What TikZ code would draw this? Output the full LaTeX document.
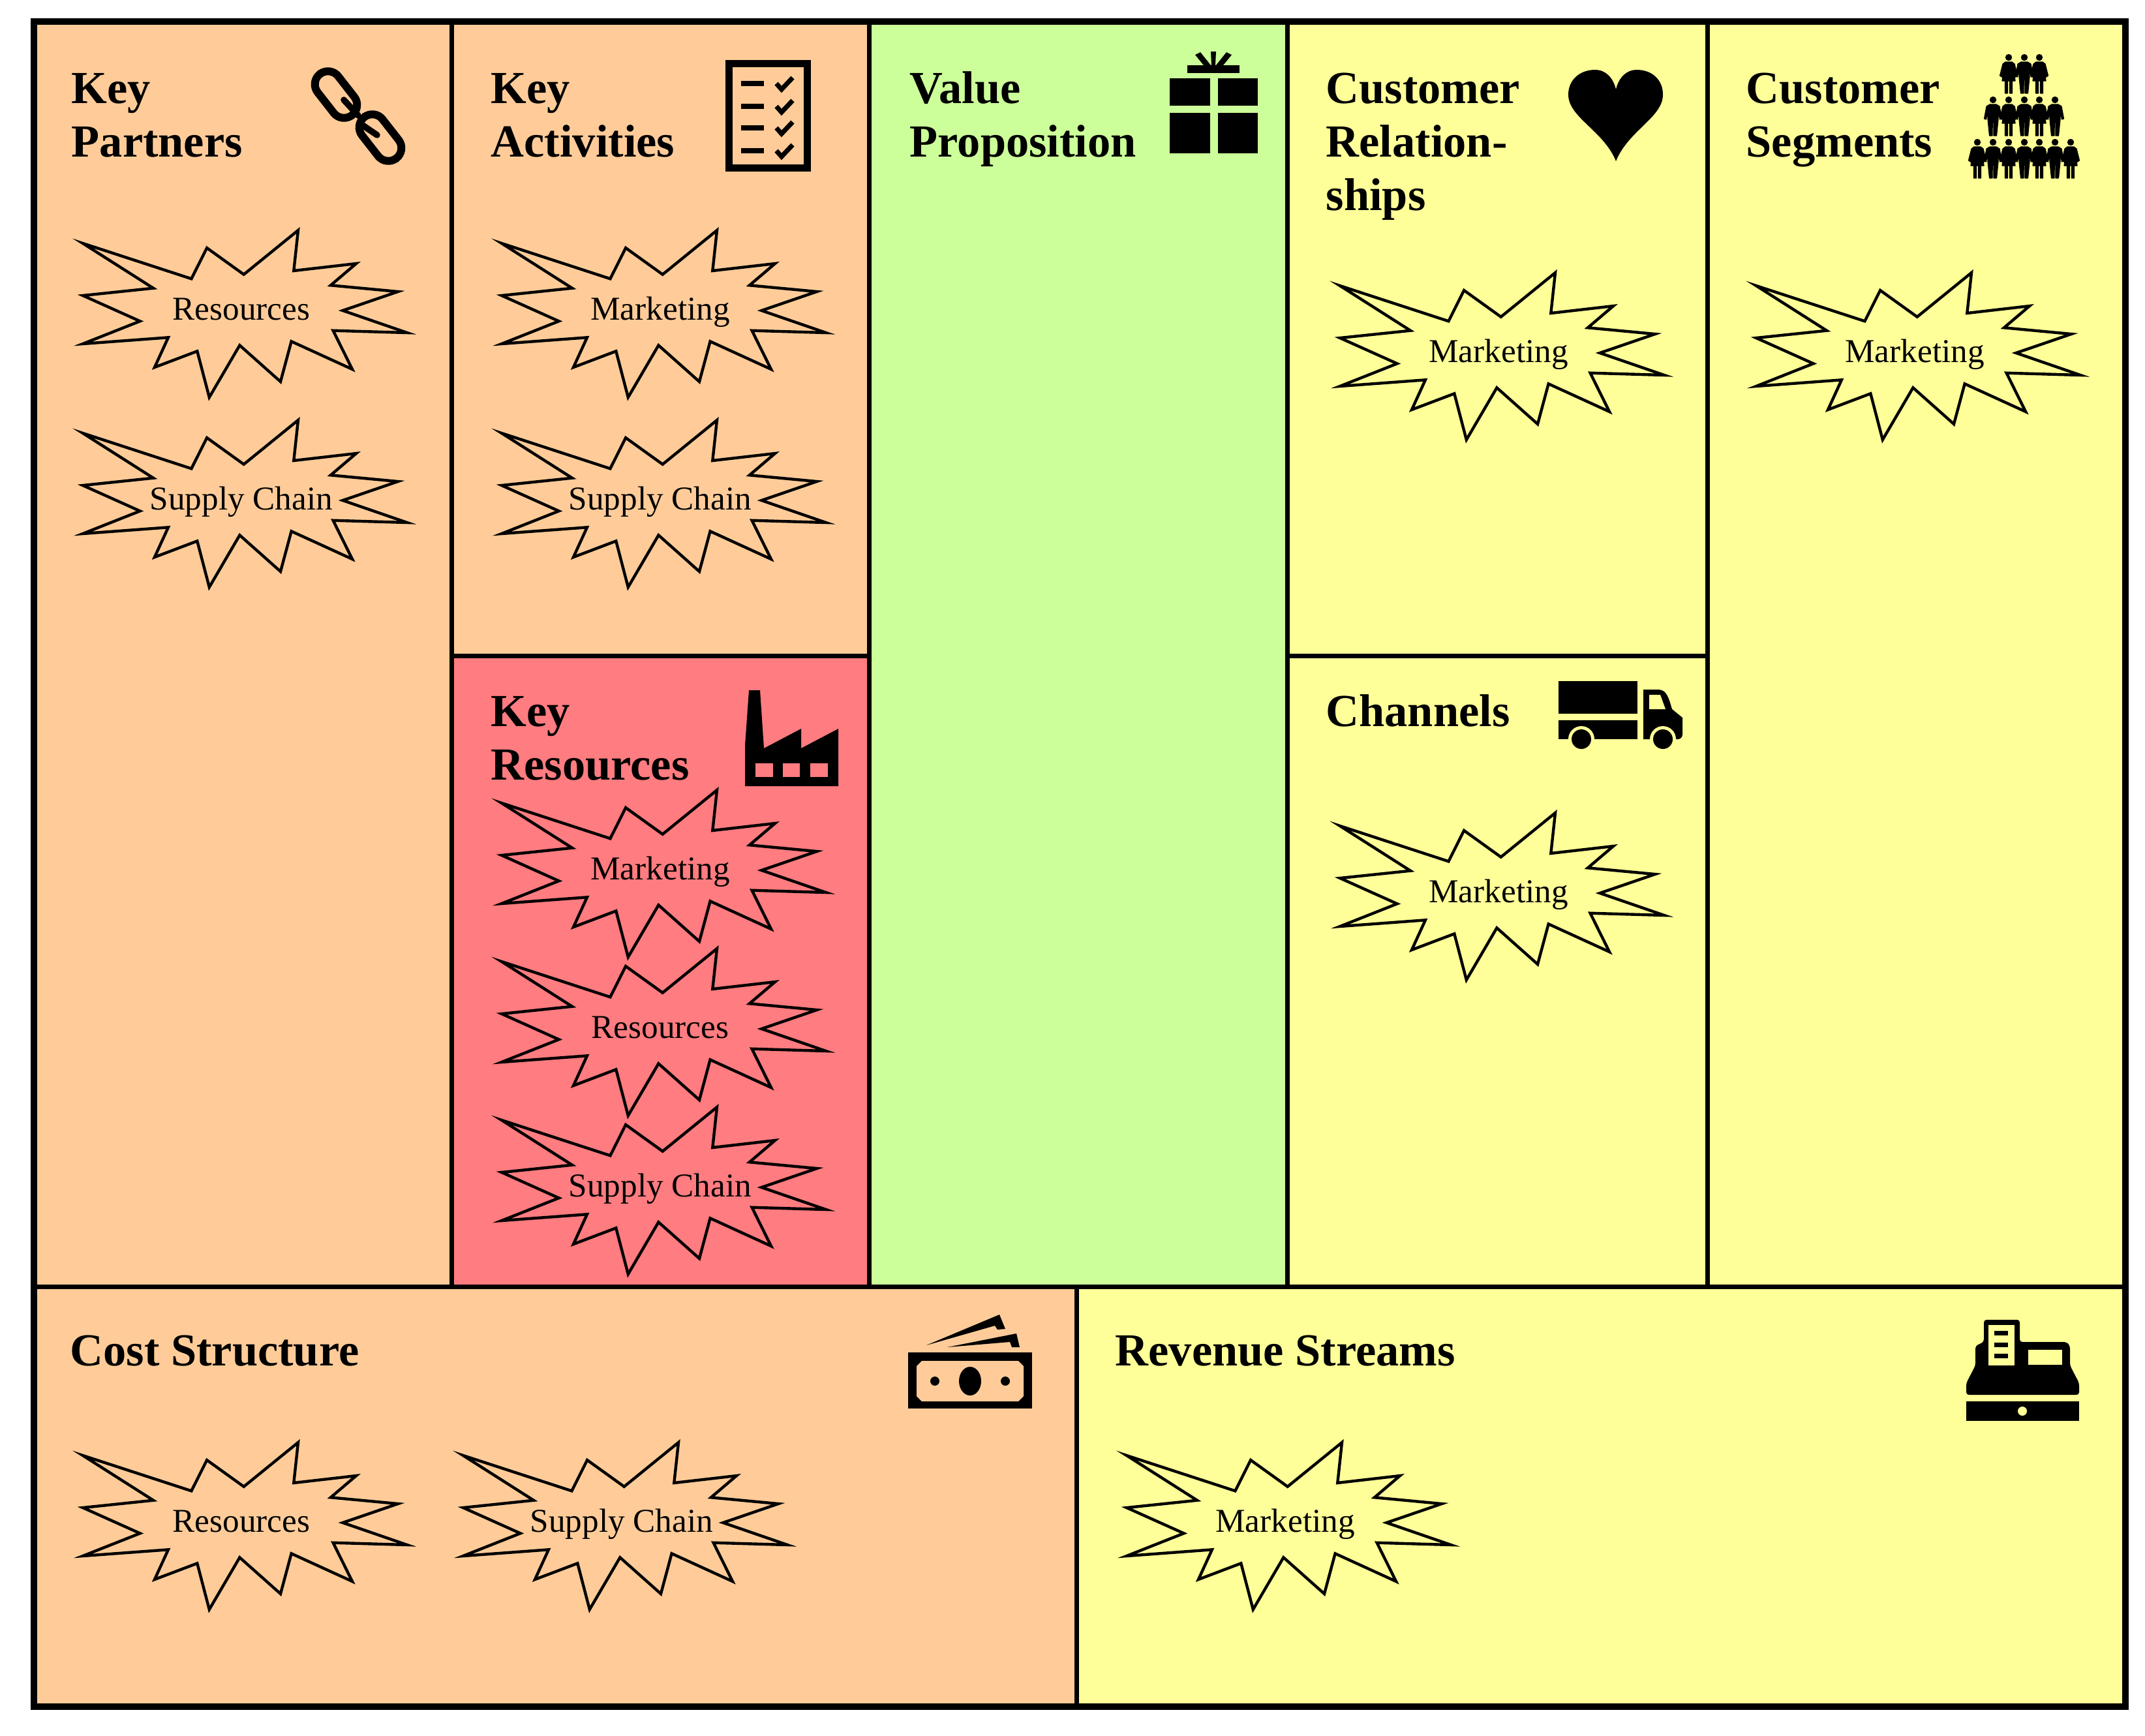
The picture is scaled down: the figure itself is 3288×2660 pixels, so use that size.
\documentclass[tikz,border=0pt]{standalone}
\usepackage{fontspec}
\setmainfont{Liberation Serif}
\definecolor{cellorange}{HTML}{FFCC99}
\definecolor{cellred}{HTML}{FF7C80}
\definecolor{cellgreen}{HTML}{CCFF99}
\definecolor{cellyellow}{HTML}{FFFF99}
\tikzset{
  cell/.style={draw=black,line width=1.75pt},
  frameline/.style={draw=black,line width=2.5pt},
  burstline/.style={draw=black,line width=1.1pt,miter limit=10},
  bursttext/.style={inner sep=0pt,anchor=base,font=\fontsize{12.8}{15}\selectfont},
  headtext/.style={inner sep=0pt,anchor=north west,align=left,font=\fontsize{17.6}{20.5}\selectfont\bfseries},
  icon/.style={fill=black,draw=none},
  personfig/.style={fill=black,draw=black,line width=0.3pt,line join=round}
}
\newcommand\burstat[4]{%
  \draw[burstline,shift={(#2,#3)}] (-243,-100)--(-76.6,-45.7)--(-52.9,-93)--(3.7,-52.3)--(87,-120)--(80.3,-58)--(176,-69)--(136.9,-35.7)--(240,-26)--(155.4,3)--(254,37)--(140.6,33.7)--(170,93)--(76.6,50.3)--(60,112)--(-2.6,56.3)--(-49.2,136)--(-67.7,65.3)--(-133,90)--(-112.1,44.3)--(-243,54)--(-155.4,19.3)--(-243,-20)--(-135,-31.3)--cycle;
  \node[bursttext] (#1) at (#2,{#3+17}) {#4};}
\newcommand\headlab[4]{\node[headtext] (#1) at (#2,{#3-57.4}) {\strut #4};}
\newcommand\headfig[2]{\fill[black] (#1,#2) circle (5.2);}
\newcommand\manfig[2]{%
  \headfig{#1}{#2}
  \filldraw[personfig,shift={(#1,#2)}] (-5,7)--(5,7)--(10,10)--(13.5,29)--(10.5,30)--(8,17)--(8,30)--(5.5,55)--(1,55)--(0.8,34)--(-0.8,34)--(-1,55)--(-5.5,55)--(-8,30)--(-8,17)--(-10.5,30)--(-13.5,29)--(-10,10)--cycle;}
\newcommand\womanfig[2]{%
  \headfig{#1}{#2}
  \filldraw[personfig,shift={(#1,#2)}] (-5,7)--(5,7)--(9,10)--(13.5,28)--(10.5,30)--(8,19)--(10,36)--(5.5,36)--(5.5,55)--(1.5,55)--(1.5,36)--(-1.5,36)--(-1.5,55)--(-5.5,55)--(-5.5,36)--(-10,36)--(-8,19)--(-10.5,30)--(-13.5,28)--(-9,10)--cycle;}
\begin{document}
\begin{tikzpicture}[x=0.25pt,y=-0.25pt]
\useasboundingbox (0,0) rectangle (3288,2660);
\fill[white] (0,0) rectangle (3288,2660);
% cells
\draw[cell,fill=cellorange] (52,33) rectangle (692.5,1972);
\draw[cell,fill=cellorange] (692.5,33) rectangle (1332.5,1005);
\draw[cell,fill=cellred] (692.5,1005) rectangle (1332.5,1972);
\draw[cell,fill=cellgreen] (1332.5,33) rectangle (1973.5,1972);
\draw[cell,fill=cellyellow] (1973.5,33) rectangle (2617,1005);
\draw[cell,fill=cellyellow] (1973.5,1005) rectangle (2617,1972);
\draw[cell,fill=cellyellow] (2617,33) rectangle (3257.5,1972);
\draw[cell,fill=cellorange] (52,1972) rectangle (1650,2615.5);
\draw[cell,fill=cellyellow] (1650,1972) rectangle (3257.5,2615.5);
\draw[frameline] (51.5,33) rectangle (3257.5,2615.5);
% headings
\headlab{kp}{109}{158}{Key\\Partners}
\headlab{ka}{752}{158}{Key\\Activities}
\headlab{vp}{1394}{158}{Value\\Proposition}
\headlab{cr}{2032}{158}{Customer\\Relation-\\ships}
\headlab{cs}{2676}{158}{Customer\\Segments}
\headlab{kr}{752}{1113}{Key\\Resources}
\headlab{ch}{2032}{1113}{Channels}
\headlab{cost}{107}{2093}{Cost Structure}
\headlab{rev}{1709}{2093}{Revenue Streams}
% bursts
\burstat{b1}{370}{473}{Resources}
\burstat{b2}{370}{764}{Supply Chain}
\burstat{b3}{1012}{473}{Marketing}
\burstat{b4}{1012}{764}{Supply Chain}
\burstat{b5}{1012}{1331}{Marketing}
\burstat{b6}{1012}{1574}{Resources}
\burstat{b7}{1012}{1817}{Supply Chain}
\burstat{b8}{2297}{538}{Marketing}
\burstat{b9}{2935}{538}{Marketing}
\burstat{b10}{2297}{1366}{Marketing}
\burstat{b11}{370}{2331}{Resources}
\burstat{b12}{953}{2331}{Supply Chain}
\burstat{b13}{1970}{2331}{Marketing}
% chain icon
\begin{scope}[shift={(515,145)},rotate=-52]
  \draw[line width=3pt,rounded corners=5pt] (-40,-20) rectangle (40,20);
\end{scope}
\begin{scope}[shift={(583,211)},rotate=-52]
  \draw[line width=3pt,rounded corners=5pt] (-40,-20) rectangle (40,20);
\end{scope}
\draw[line width=2.4pt,line cap=round] (527,153)--(549,177);
\draw[line width=2.4pt,line cap=round] (553,190)--(578,207);
% checklist icon
\draw[line width=2.8pt] (1117.5,97.5) rectangle (1237.5,257.5);
\foreach \yy in {128,163,196,231}{
  \fill[black] (1136,\yy-4) rectangle (1171,\yy+4);
  \draw[line width=1.8pt] (1190,\yy)--(1198,\yy+9)--(1215,\yy-9);
}
% gift icon
\fill[icon] (1793,120) rectangle (1855,162);
\fill[icon] (1867,120) rectangle (1928,162);
\fill[icon] (1793,173) rectangle (1855,235);
\fill[icon] (1867,173) rectangle (1928,235);
\fill[icon] (1820,100) rectangle (1900,112);
\fill[icon] (1832,84)--(1840,80)--(1856,100)--(1845,100)--cycle;
\fill[icon] (1856,79)--(1864,79)--(1863,100)--(1857,100)--cycle;
\fill[icon] (1888,84)--(1880,80)--(1864,100)--(1875,100)--cycle;
% heart icon
\fill[icon] (2477,247) .. controls (2458,200) and (2404,180) .. (2404,145) .. controls (2404,122) and (2422,107) .. (2445,107) .. controls (2462,107) and (2473,120) .. (2477,137) .. controls (2481,120) and (2492,107) .. (2509,107) .. controls (2532,107) and (2549,122) .. (2549,145) .. controls (2549,180) and (2496,200) .. (2477,247) -- cycle;
% people icon
\womanfig{3079}{88}\manfig{3103}{88}\womanfig{3126}{88}
\manfig{3055}{153}\womanfig{3079}{153}\manfig{3103}{153}\womanfig{3126}{153}\manfig{3150}{153}
\womanfig{3031}{218}\manfig{3055}{218}\womanfig{3079}{218}\manfig{3103}{218}\womanfig{3126}{218}\manfig{3150}{218}\womanfig{3174}{218}
% factory icon
\fill[icon] (1148,1058)--(1165,1058)--(1171,1147)--(1228,1117)--(1228,1147)--(1285,1117)--(1285,1205)--(1142,1205)--(1142,1143)--cycle;
\fill[cellred] (1157.5,1170) rectangle (1185,1191);
\fill[cellred] (1200,1170) rectangle (1226,1191);
\fill[cellred] (1242,1170) rectangle (1269,1191);
% truck icon
\fill[icon] (2389,1044) rectangle (2510,1094);
\fill[icon] (2389,1104) -- (2510,1104) -- (2510,1133) -- (2389,1133) -- cycle;
\fill[cellyellow] (2424,1133) circle (20);
\fill[cellyellow] (2400,1134) rectangle (2448,1156);
\fill[icon] (2424,1133) circle (15);
\fill[icon] (2519,1057) -- (2543,1057) .. controls (2555,1058) and (2558,1070) .. (2563,1087) -- (2579,1100) -- (2579,1125) .. controls (2579,1130) and (2576,1133) .. (2572,1133) -- (2519,1133) -- cycle;
\fill[cellyellow] (2528,1065) -- (2545,1065) -- (2553,1087) -- (2528,1087) -- cycle;
\fill[cellyellow] (2549,1133) circle (20);
\fill[cellyellow] (2525,1134) rectangle (2573,1156);
\fill[icon] (2549,1133) circle (15);
% money icon
\fill[icon] (1392,2073) rectangle (1582,2159);
\fill[cellorange] (1413,2086)--(1561,2086)--(1569,2094)--(1569,2140)--(1561,2148)--(1413,2148)--(1405,2140)--(1405,2094)--cycle;
\fill[icon] (1487,2117) ellipse (17 and 22);
\fill[icon] (1433,2117) circle (7);
\fill[icon] (1541,2117) circle (7);
\fill[icon] (1420,2062)--(1532,2015)--(1541,2037)--(1529,2038)--(1525,2032)--cycle;
\fill[icon] (1452,2065)--(1558,2044)--(1563,2065)--(1551,2065)--(1548,2057)--cycle;
% cash register icon
\fill[icon,rounded corners=1pt] (3014,2138)--(3014,2120)--(3028,2093)--(3028,2063)--(3041,2057)--(3041,2023)--(3096,2023)--(3096,2057)--(3168,2057)--(3173,2063)--(3173,2093)--(3187,2120)--(3187,2138)--cycle;
\fill[cellyellow] (3048,2031) rectangle (3088,2093);
\fill[icon] (3057,2040) rectangle (3078,2047);
\fill[icon] (3057,2058) rectangle (3078,2065);
\fill[icon] (3057,2075) rectangle (3078,2082);
\fill[cellyellow] (3109,2069) rectangle (3161,2092);
\fill[icon] (3014,2148) rectangle (3187,2178);
\fill[cellyellow] (3100,2163) circle (7);
\end{tikzpicture}
\end{document}
